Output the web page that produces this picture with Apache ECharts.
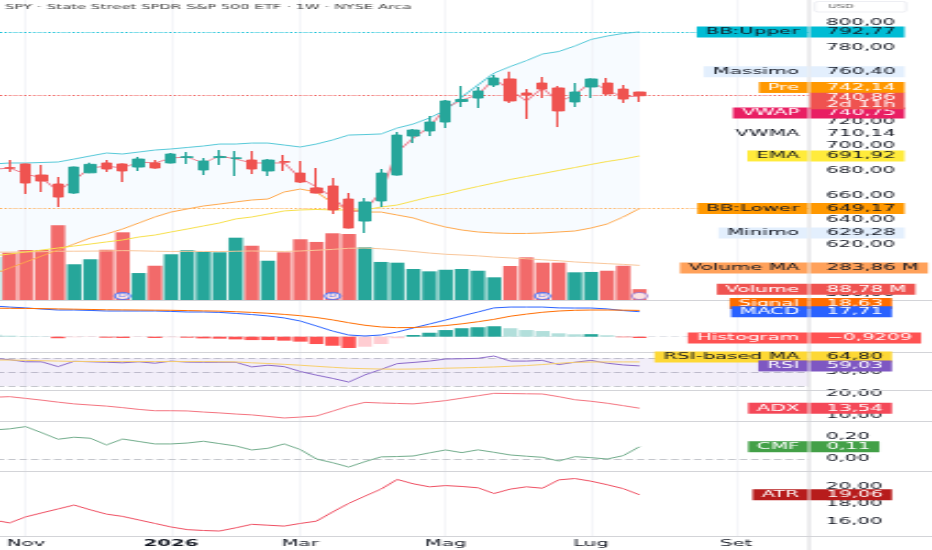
<!DOCTYPE html>
<html>
<head>
<meta charset="utf-8">
<title>SPY 1W</title>
<script src="https://cdn.jsdelivr.net/npm/echarts@6.0.0/dist/echarts.min.js"></script>
<style>
  html, body { margin: 0; padding: 0; background: #fff; overflow: hidden; }
  #wrap { width: 932px; height: 550px; overflow: hidden; }
  /* the source screenshot is stretched sideways: draw narrow, then widen */
  #chart { width: 424px; height: 550px; transform: scaleX(2.198113); transform-origin: 0 0; }
</style>
</head>
<body>
<div id="wrap"><div id="chart"></div></div>
<script>
// ---- data (weekly bars, first one is cut off at the left edge) ----
var dates = ['2025-10-20','2025-10-27','2025-11-03','2025-11-10','2025-11-17','2025-11-24','2025-12-01','2025-12-08',
  '2025-12-15','2025-12-22','2025-12-29','2026-01-05','2026-01-12','2026-01-19','2026-01-26','2026-02-02','2026-02-09',
  '2026-02-16','2026-02-23','2026-03-02','2026-03-09','2026-03-16','2026-03-23','2026-03-30','2026-04-06','2026-04-13',
  '2026-04-20','2026-04-27','2026-05-04','2026-05-11','2026-05-18','2026-05-25','2026-06-01','2026-06-08','2026-06-15',
  '2026-06-22','2026-06-29','2026-07-06','2026-07-13','2026-07-20','2026-07-27','2026-08-03','2026-08-10','2026-08-17',
  '2026-08-24','2026-08-31','2026-09-07','2026-09-14','2026-09-21','2026-09-28','2026-10-05'];

var xTickLabels = { '2025-11-03': 'Nov', '2026-01-05': '2026', '2026-03-02': 'Mar',
                    '2026-05-04': 'Mag', '2026-07-06': 'Lug', '2026-09-07': 'Set' };

var opens  = [681.0, 682.4, 685.4, 676.4, 669.1, 661.8, 678.2, 686.2, 685.4, 682.9, 686.2, 686.2, 690.7, 680.5, 690.6, 689.8, 688.6, 679.7, 687.4, 678.0, 665.9, 667.5, 656.9, 639.0, 655.3, 676.4, 708.1, 712.2, 719.5, 736.2, 739.0, 749.6, 754.5, 743.1, 751.2, 747.2, 735.8, 748.0, 751.2, 746.3, 743.9];
var closes = [684.0, 681.9, 669.9, 671.5, 658.5, 682.9, 685.1, 681.3, 679.7, 689.4, 682.1, 693.5, 691.3, 687.8, 691.4, 690.4, 681.3, 688.6, 686.8, 670.7, 661.8, 648.0, 633.3, 654.5, 678.0, 708.9, 713.0, 719.5, 736.6, 737.8, 744.7, 755.3, 736.6, 741.5, 746.3, 728.5, 743.9, 754.5, 742.3, 738.2, 740.86];
var lows   = [679.0, 678.9, 661.0, 662.6, 650.4, 661.2, 677.9, 678.9, 670.7, 679.7, 681.6, 685.9, 685.4, 676.4, 684.6, 675.6, 677.2, 675.6, 679.7, 669.9, 661.5, 644.7, 633.0, 629.28, 650.4, 676.0, 702.4, 708.1, 714.6, 731.7, 730.9, 748.0, 735.0, 722.0, 739.0, 715.4, 731.7, 739.0, 741.5, 735.0, 735.8];
var highs  = [686.5, 688.6, 685.6, 684.6, 674.8, 683.2, 686.4, 688.6, 685.8, 691.1, 688.6, 694.3, 695.1, 690.2, 696.7, 695.9, 695.9, 689.4, 692.7, 687.8, 682.1, 674.0, 661.8, 657.7, 681.3, 711.4, 713.8, 724.4, 737.4, 748.8, 748.0, 757.7, 760.4, 746.3, 756.1, 748.8, 751.2, 755.0, 755.3, 749.6, 744.0];

var bbUpper = [685.4, 686.2, 686.2, 686.6, 687.0, 689.4, 691.9, 694.3, 693.5, 695.1, 696.7, 697.6, 698.8, 700.0, 701.6, 701.6, 702.4, 702.4, 700.8, 699.2, 701.6, 704.9, 708.9, 709.3, 709.8, 714.6, 717.9, 722.8, 729.3, 739.8, 749.6, 759.3, 764.6, 769.4, 774.8, 776.8, 781.3, 786.6, 789.4, 791.5, 792.77];
var bbLower = [595.9, 600.8, 605.7, 610.6, 615.4, 620.3, 625.2, 628.5, 632.5, 637.4, 642.3, 646.3, 648.8, 651.2, 652.8, 654.5, 656.1, 656.9, 662.6, 665.0, 662.6, 653.7, 648.0, 646.3, 646.3, 643.9, 641.5, 637.4, 634.1, 631.7, 630.1, 629.3, 628.9, 628.9, 629.3, 630.1, 630.9, 633.3, 636.6, 642.3, 649.17];
var ema     = [610.6, 612.2, 613.8, 615.4, 617.1, 618.7, 620.3, 622.0, 623.6, 626.0, 627.6, 630.1, 632.5, 635.0, 637.4, 640.7, 642.3, 644.7, 647.2, 648.0, 648.4, 648.0, 648.0, 648.0, 650.4, 652.0, 655.3, 658.5, 661.0, 664.2, 667.1, 669.9, 672.8, 675.2, 677.6, 680.1, 682.5, 685.0, 687.4, 689.4, 691.92];
var vwap    = [681.0, 682.1, 677.2, 674.0, 663.4, 672.4, 682.1, 683.7, 682.1, 687.0, 686.2, 690.2, 691.1, 686.2, 691.9, 689.4, 686.2, 686.2, 686.2, 674.0, 666.7, 658.5, 646.3, 648.0, 662.6, 695.1, 706.5, 715.4, 730.9, 737.4, 741.5, 754.5, 745.5, 736.6, 747.2, 735.8, 741.5, 752.0, 745.5, 739.8, 740.75];

// volume in millions
var volumes  = [353, 388, 410, 410, 613, 293, 334, 412, 555, 221, 281, 375, 408, 394, 391, 511, 445, 322, 391, 498, 476, 547, 541, 432, 312, 306, 254, 235, 248, 254, 240, 186, 279, 350, 306, 306, 227, 230, 240, 281, 88.78];
var volumeMA = [392, 393, 395, 396, 400, 400, 401, 402, 405, 403, 400, 398, 399, 398, 397, 400, 402, 400, 398, 402, 408, 415, 424, 426, 420, 410, 398, 385, 375, 369, 362, 352, 345, 338, 330, 322, 312, 305, 298, 292, 283.86];

var macd   = [21.8, 21.0, 20.4, 19.6, 18.9, 18.9, 18.6, 18.2, 18.2, 18.2, 18.2, 17.9, 17.5, 17.5, 17.2, 16.5, 15.7, 14.7, 13.3, 11.1, 7.6, 4.0, 1.2, 0.5, 1.2, 3.3, 6.2, 9.0, 11.8, 14.7, 17.5, 20.4, 21.0, 21.0, 21.0, 20.4, 20.3, 20.3, 19.7, 18.5, 17.71];
var signal = [20.2, 20.1, 20.0, 19.9, 19.7, 19.5, 19.3, 19.1, 19.0, 18.9, 18.8, 18.7, 18.5, 18.3, 18.1, 17.7, 17.2, 16.6, 15.8, 14.9, 13.6, 11.9, 9.9, 8.1, 6.9, 6.4, 6.5, 7.0, 7.9, 9.1, 10.6, 12.3, 14.5, 16.0, 17.3, 18.2, 18.7, 18.9, 18.9, 18.8, 18.63];
var hist   = [1.4, 0.7, 0.3, 0.2, -1.1, -0.4, -0.2, -0.7, -0.9, -0.2, -0.9, -0.4, -0.7, -1.2, -1.4, -1.9, -2.4, -2.4, -2.8, -3.5, -5.2, -6.4, -8.0, -7.1, -5.2, -1.1, 1.2, 2.8, 4.7, 6.0, 6.7, 7.4, 6.0, 4.7, 4.0, 2.4, 1.7, 1.8, 1.0, -0.4, -0.9209];

var rsi   = [70, 68, 65, 64.9, 58, 65.7, 65, 64.3, 63.5, 65, 62.9, 66, 64.5, 64.3, 64.3, 64.3, 57.6, 60, 58, 51, 45.7, 41, 35.7, 46, 54, 62.3, 64, 66, 69, 69.4, 70, 73.3, 66, 66, 67, 60.9, 64.3, 67, 62.9, 60.4, 59.03];
var rsiMA = [67.5, 67.5, 67, 66.5, 66, 65.5, 65.5, 65.3, 65.3, 65.3, 65.3, 65.3, 65.3, 65.3, 65, 64.8, 63.5, 62.5, 61.3, 60, 58.5, 57, 55.7, 55, 54.5, 54.3, 54.5, 55, 55.7, 56.2, 56.8, 57.5, 58.5, 59.5, 61, 62.8, 64.2, 64.6, 64.8, 64.8, 64.8];
var rsiLevels = [70, 50, 30];

var adx = [18.5, 18.8, 18.0, 17.2, 16.3, 15.5, 15.0, 14.5, 13.8, 13.0, 12.4, 12.4, 12.3, 11.8, 11.4, 10.9, 10.5, 9.8, 9.1, 9.5, 10.0, 12.2, 14.5, 16.2, 15.9, 15.7, 15.5, 16.2, 17.0, 18.1, 19.2, 20.3, 20.2, 20.1, 20.0, 18.8, 17.4, 16.7, 15.8, 14.7, 13.54];
var cmf = [0.26, 0.27, 0.29, 0.235, 0.177, 0.195, 0.186, 0.126, 0.179, 0.157, 0.135, 0.135, 0.143, 0.159, 0.138, 0.117, 0.081, 0.096, 0.135, 0.085, 0.0, -0.033, -0.072, -0.024, 0.019, 0.022, 0.027, 0.055, 0.081, 0.057, 0.082, 0.06, 0.036, 0.025, 0.015, -0.018, 0.021, 0.012, 0.0, 0.03, 0.11];
var atr = [16.2, 15.86, 16.55, 17.0, 17.45, 17.89, 17.35, 16.86, 16.6, 16.2, 15.8, 15.4, 15.1, 15.0, 14.94, 15.3, 15.7, 15.6, 15.5, 15.8, 16.06, 17.1, 18.08, 18.9, 19.7, 20.8, 20.3, 19.96, 20.1, 20.0, 19.85, 19.2, 19.7, 19.96, 19.8, 20.75, 20.9, 20.6, 20.2, 19.75, 19.06];

var dividendDates = ['2025-12-15', '2026-03-16', '2026-06-15'];
var eventDates = ['2026-07-27'];
var prePrice = 742.14;
var vwmaLast = 710.14;
var countdown = '2d 11h';

// tick labels on the right scales, one list per pane
var yTicks = [[580, 600, 620, 640, 660, 680, 700, 720, 740, 760, 780, 800], [], [], [50], [10, 20], [0, 0.2], [16, 18, 20]];

// ---- layout ----
var SX = 932 / 424;              // horizontal stretch of the page
function px(d) { return d / SX; } // screen px -> chart px (horizontal only)
var DARK = '#131722';
var FONT = '"DejaVu Sans", sans-serif';

// panes: price, volume overlay, MACD, RSI, ADX, CMF, ATR
var paneTop    = [0, 0, 300, 352.5, 390, 421.5, 471.5];
var paneHeight = [300, 300, 52.5, 37.5, 31.5, 50, 64.5];
var yRange = [[574.8, 818.7], [0, 2460], [-11.2, 26], [24.2, 78.4], [7.5, 21.82], [-0.112, 0.336], [14.375, 21.7]];
var GRID_LEFT = px(-14.7);
var GRID_RIGHT = 424 - px(809);

function fmt(v, d) { return v.toFixed(d == null ? 2 : d).replace('.', ',').replace('-', '\u2212'); }
function last(a) { return a[a.length - 1]; }

var guideData = Object.keys(xTickLabels).map(function (d) { return { xAxis: d }; });
function guides(extra) {
    return {
        silent: true, symbol: ['none', 'none'], z: 0.5, animation: false,
        label: { show: false },
        lineStyle: { color: '#eef0f5', width: 0.6, type: 'solid' },
        data: guideData.concat(extra || [])
    };
}
function priceLine(value, color, z) {
    return {
        silent: true, symbol: ['none', 'none'], z: z, animation: false,
        label: { show: false },
        lineStyle: { color: color, width: 1, type: [1, 1.2] },
        data: [{ yAxis: value }]
    };
}
function line(name, axis, data, color, z) {
    return {
        name: name, type: 'line', xAxisIndex: axis, yAxisIndex: axis, data: data,
        symbol: 'none', z: z || 2, lineStyle: { color: color, width: 1 }
    };
}
var dashed = { color: '#c4c6cc', width: 1, type: [3.4, 1.8] };

var histData = hist.map(function (v, i) {
    var rising = i === 0 || v > hist[i - 1];
    var c = v >= 0 ? (rising ? '#26a69a' : '#b2dfdb') : (rising ? '#ffcdd2' : '#ff5252');
    return { value: v, itemStyle: { color: c } };
});
var volData = volumes.map(function (v, i) {
    return { value: v, itemStyle: { color: closes[i] >= opens[i] ? '#26a69a' : '#f26a6a' } };
});
var candleData = opens.map(function (o, i) { return [o, closes[i], lows[i], highs[i]]; });

var chart = echarts.init(document.getElementById('chart'));

var bbUpperSeries = line('BB Upper', 0, bbUpper, '#56c9d8');
bbUpperSeries.markLine = priceLine(last(bbUpper), '#00bcd4', 2);
var bbLowerSeries = line('BB Lower', 0, bbLower, '#ffa94d');
bbLowerSeries.markLine = priceLine(last(bbLower), '#ffa94d', 2);

var rsiSeries = line('RSI', 3, rsi, '#8a68c9');
rsiSeries.markArea = { silent: true, z: 1, itemStyle: { color: 'rgba(126,87,194,0.1)' },
                       data: [[{ yAxis: rsiLevels[0] }, { yAxis: rsiLevels[2] }]] };
rsiSeries.markLine = guides(rsiLevels.map(function (l) { return { yAxis: l, lineStyle: dashed }; }));
var adxSeries = line('ADX', 4, adx, '#f4737f');
adxSeries.markLine = guides();
var cmfSeries = line('CMF', 5, cmf, '#72ad8c');
cmfSeries.markLine = guides([{ yAxis: 0, lineStyle: dashed }]);
var atrSeries = line('ATR', 6, atr, '#ef4f62');
atrSeries.markLine = guides();

var option = {
    animation: false,
    backgroundColor: '#ffffff',
    grid: paneTop.map(function (t, i) {
        return { left: GRID_LEFT, right: GRID_RIGHT, top: t, height: paneHeight[i],
                 containLabel: false, outerBoundsMode: 'none' };
    }),
    xAxis: paneTop.map(function (t, i) {
        return {
            type: 'category', gridIndex: i, data: dates, boundaryGap: true,
            axisLine: { show: false }, axisTick: { show: false }, splitLine: { show: false },
            axisLabel: {
                show: i === 6, margin: 3, color: DARK, fontSize: 9, fontFamily: FONT,
                interval: function (idx, val) { return xTickLabels.hasOwnProperty(val); },
                formatter: function (val) {
                    var t = xTickLabels[val] || '';
                    return /^\d{4}$/.test(t) ? '{y|' + t + '}' : t;
                },
                rich: { y: { fontWeight: 'bold', fontSize: 9, color: DARK, fontFamily: FONT } }
            }
        };
    }),
    yAxis: paneTop.map(function (t, i) {
        return {
            type: 'value', gridIndex: i, position: 'right', min: yRange[i][0], max: yRange[i][1],
            axisLine: { show: false }, axisTick: { show: false }, splitLine: { show: false },
            axisLabel: {
                show: yTicks[i].length > 0, customValues: yTicks[i],
                formatter: function (v) { return fmt(v); },
                color: DARK, fontSize: 9, fontFamily: FONT, margin: px(826) - px(809)
            }
        };
    }),
    series: [
        { name: 'BB fill', type: 'line', xAxisIndex: 0, yAxisIndex: 0, data: bbUpper, symbol: 'none', z: 0,
          lineStyle: { width: 0 }, areaStyle: { color: 'rgba(33,150,243,0.05)', origin: 'start' }, markLine: guides() },
        { name: 'BB mask', type: 'line', xAxisIndex: 0, yAxisIndex: 0, data: bbLower, symbol: 'none', z: 0,
          lineStyle: { width: 0 }, areaStyle: { color: '#ffffff', opacity: 1, origin: 'start' } },
        { name: 'Volume', type: 'bar', xAxisIndex: 1, yAxisIndex: 1, z: 1, barWidth: '88%', data: volData },
        line('Volume MA', 1, volumeMA, '#f9c79b'),
        { name: 'Dividends', type: 'scatter', xAxisIndex: 1, yAxisIndex: 1, z: 4,
          data: dividendDates.map(function (d) { return [d, 0]; }),
          symbol: 'circle', symbolSize: 7.2, symbolOffset: [0, -4],
          itemStyle: { color: '#fff', borderColor: '#2962ff', borderWidth: 1 },
          label: { show: true, position: 'inside', formatter: 'D', fontSize: 5, color: '#2962ff' } },
        { name: 'Events', type: 'scatter', xAxisIndex: 1, yAxisIndex: 1, z: 4,
          data: eventDates.map(function (d) { return [d, 0]; }),
          symbol: 'circle', symbolSize: 7.2, symbolOffset: [0, -4],
          itemStyle: { color: '#fff', borderColor: '#9575cd', borderWidth: 1 } },
        bbUpperSeries,
        bbLowerSeries,
        line('EMA', 0, ema, '#f7e04b'),
        line('VWAP', 0, vwap, '#f07c8c'),
        { name: 'SPY', type: 'candlestick', xAxisIndex: 0, yAxisIndex: 0, z: 3, barWidth: '66%', data: candleData,
          itemStyle: { color: '#26a69a', color0: '#ef5350', borderColor: '#26a69a', borderColor0: '#ef5350', borderWidth: 1 },
          markLine: priceLine(last(closes), '#ef5350', 2.5) },
        { name: 'Histogram', type: 'bar', xAxisIndex: 2, yAxisIndex: 2, z: 2, barWidth: '88%', data: histData,
          markLine: guides([{ yAxis: 0, lineStyle: { color: '#e3e5ea', width: 1, type: [3.4, 1.8] } }]) },
        line('MACD', 2, macd, '#2962ff'),
        line('Signal', 2, signal, '#ff6d00'),
        rsiSeries,
        line('RSI-based MA', 3, rsiMA, '#f7cf6b'),
        adxSeries,
        cmfSeries,
        atrSeries
    ]
};
chart.setOption(option);

// ---- price tags on the right scale, plus pane borders ----
var W = '#ffffff';
var tags = [
    { name: 'BB:Upper', axis: 0, value: last(bbUpper), text: fmt(last(bbUpper)), bg: '#00bcd4', fg: DARK },
    { name: 'Massimo', axis: 0, value: Math.max.apply(null, highs), text: fmt(Math.max.apply(null, highs)), bg: '#e3effd', fg: DARK },
    { name: 'Pre', axis: 0, value: prePrice, text: fmt(prePrice), bg: '#ff9800', fg: W, dy: -6.7 },
    { name: 'VWAP', axis: 0, value: last(vwap), text: fmt(last(vwap)), bg: '#e91e63', fg: W, dy: 17.2 },
    { name: 'VWMA', axis: 0, value: vwmaLast, text: fmt(vwmaLast), bg: null, fg: DARK },
    { name: 'EMA', axis: 0, value: last(ema), text: fmt(last(ema)), bg: '#ffeb3b', fg: DARK },
    { name: 'BB:Lower', axis: 0, value: last(bbLower), text: fmt(last(bbLower)), bg: '#ff9800', fg: DARK },
    { name: 'Minimo', axis: 0, value: Math.min.apply(null, lows), text: fmt(Math.min.apply(null, lows)), bg: '#e3effd', fg: DARK },
    { name: 'Volume MA', axis: 1, value: last(volumeMA), text: fmt(last(volumeMA)) + ' M', bg: '#ffa15a', fg: DARK, dy: 2.5 },
    { name: 'Volume', axis: 1, value: last(volumes), text: fmt(last(volumes)) + ' M', bg: '#ef5350', fg: W },
    { name: 'Signal', axis: 2, value: last(signal), text: fmt(last(signal)), bg: '#ff6d00', fg: W, dy: -7 },
    { name: 'MACD', axis: 2, value: last(macd), text: fmt(last(macd)), bg: '#2962ff', fg: W },
    { name: 'Histogram', axis: 2, value: last(hist), text: fmt(last(hist), 4), bg: '#ff5252', fg: W },
    { name: 'RSI-based MA', axis: 3, value: last(rsiMA), text: fmt(last(rsiMA)), bg: '#fdd835', fg: DARK, dy: -5 },
    { name: 'RSI', axis: 3, value: last(rsi), text: fmt(last(rsi)), bg: '#7e57c2', fg: W },
    { name: 'ADX', axis: 4, value: last(adx), text: fmt(last(adx)), bg: '#f44858', fg: W },
    { name: 'CMF', axis: 5, value: last(cmf), text: fmt(last(cmf)), bg: '#43a047', fg: W },
    { name: 'ATR', axis: 6, value: last(atr), text: fmt(last(atr)), bg: '#b71c1c', fg: W },
    // last price with countdown to bar close, drawn on top of its neighbours
    { name: '', axis: 0, value: last(closes), text: fmt(last(closes)) + '\n' + countdown, bg: '#ef5350', fg: W, two: true }
];

function label(x, y, text, align, bg, fg, pad, va, lh, z) {
    return {
        type: 'text', x: x, y: y, z: z, silent: true,
        style: {
            text: text, align: align, textAlign: align,
            verticalAlign: va || 'middle', textVerticalAlign: va || 'middle',
            fill: fg, backgroundColor: bg || 'transparent', padding: pad,
            fontSize: 9, fontFamily: FONT, lineHeight: lh || 9
        }
    };
}

var els = [];
[300.5, 352.5, 390.5, 421.5, 471.5, 536.5].forEach(function (y) {
    els.push({ type: 'line', z: 50, silent: true, shape: { x1: 0, y1: y, x2: 424, y2: y },
               style: { stroke: '#d3d4d8', lineWidth: 1 } });
});
els.push({ type: 'line', z: 50, silent: true, shape: { x1: px(809), y1: 0, x2: px(809), y2: 550 },
           style: { stroke: '#d6d6d9', lineWidth: 0.9 } });
els.push({ type: 'text', z: 60, silent: true, x: px(5), y: 7,
           style: { text: 'SPY \u00b7 State Street SPDR S&P 500 ETF \u00b7 1W \u00b7 NYSE Arca',
                    fill: '#444', fontSize: 6.8, fontFamily: FONT, verticalAlign: 'middle', textVerticalAlign: 'middle' } });
els.push({ type: 'rect', z: 60, silent: true, shape: { x: px(815), y: 1.5, width: px(906) - px(815), height: 10.5, r: 1.5 },
           style: { fill: '#fff', stroke: '#e0e3eb', lineWidth: 0.6 } });
els.push({ type: 'text', z: 61, silent: true, x: px(828), y: 7,
           style: { text: 'USD', fill: '#555', fontSize: 5.5, fontFamily: FONT, verticalAlign: 'middle', textVerticalAlign: 'middle' } });

tags.forEach(function (t, i) {
    var y = chart.convertToPixel({ yAxisIndex: t.axis }, t.value) + (t.dy || 0);
    var z = 100 + i;
    if (t.name) {
        els.push(label(px(808), y, t.name, 'right', t.bg, t.fg, [1, 4, 1, 4], 'middle', 9, z));
    }
    if (t.two) {
        els.push(label(px(810), y - 3, t.text, 'left', t.bg, t.fg, [1, 4, 1, 7.5], 'top', 7.3, z));
    } else {
        els.push(label(px(810), y, t.text, 'left', t.bg, t.fg, [1, 4, 1, 7.5], 'middle', 9, z));
    }
});

chart.setOption({ graphic: { elements: els } });
</script>
</body>
</html>
